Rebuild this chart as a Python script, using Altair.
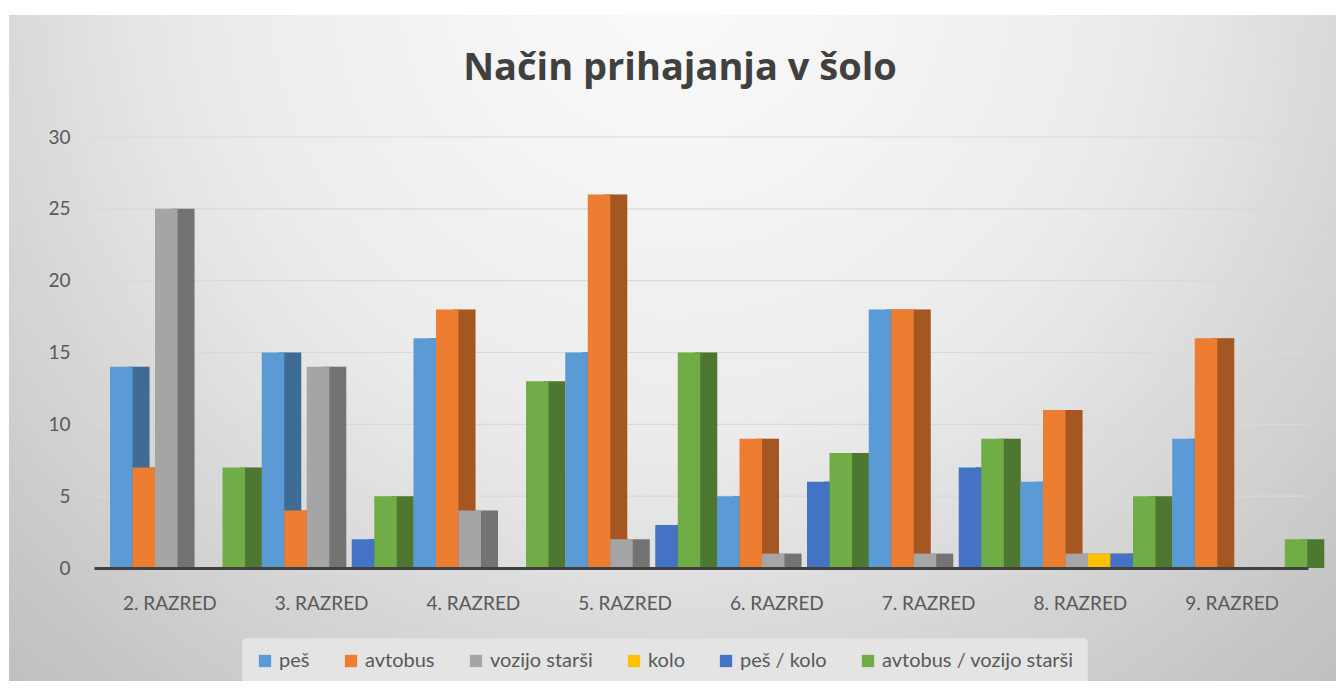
import altair as alt
import pandas as pd

grades = ["2. RAZRED", "3. RAZRED", "4. RAZRED", "5. RAZRED",
          "6. RAZRED", "7. RAZRED", "8. RAZRED", "9. RAZRED"]
series = ["peš", "avtobus", "vozijo starši", "kolo", "peš / kolo", "avtobus / vozijo starši"]
colors = ["#5B9BD5", "#ED7D31", "#A5A5A5", "#FFC000", "#4472C4", "#70AD47"]

pes = [14, 15, 16, 15, 5, 18, 6, 9]
avtobus = [7, 4, 18, 26, 9, 18, 11, 16]
vozijo_starsi = [25, 14, 4, 2, 1, 1, 1, 0]
kolo = [0, 0, 0, 0, 0, 0, 1, 0]
pes_kolo = [0, 2, 0, 3, 6, 7, 1, 0]
avtobus_vozijo = [7, 5, 13, 15, 8, 9, 5, 2]
y_ticks = [0, 5, 10, 15, 20, 25, 30]
title_text = "Način prihajanja v šolo"

rows = []
for s, vals in zip(series, [pes, avtobus, vozijo_starsi, kolo, pes_kolo, avtobus_vozijo]):
    for g, v in zip(grades, vals):
        rows.append({"razred": g, "nacin": s, "vrednost": v})
df = pd.DataFrame(rows)

W, H = 1214, 431
FONT = "Lato"
LABEL = "#595959"

x_axis = alt.Axis(title=None, labelAngle=0, ticks=False, labelPadding=26,
                  labelFontSize=19, labelColor=LABEL, domainColor="#404040",
                  domainWidth=3, grid=False, zindex=1)
y_axis = alt.Axis(title=None, values=y_ticks, grid=False, domain=False, ticks=False,
                  labelPadding=24, labelFontSize=19, labelColor=LABEL, zindex=1)
x_enc = alt.X("razred:N", sort=grades,
              scale=alt.Scale(paddingInner=0, paddingOuter=0), axis=x_axis)
y_scale = alt.Scale(domain=[0, 30], nice=False)
y_enc = alt.Y("vrednost:Q", scale=y_scale, axis=y_axis)
color_scale = alt.Scale(domain=series, range=colors)
legend = alt.Legend(title=None, orient="none", legendX=148, legendY=501,
                    direction="horizontal", symbolType="square",
                    symbolSize=150, symbolStrokeWidth=0,
                    labelFontSize=20, labelColor=LABEL, labelFont=FONT, labelLimit=400,
                    columnPadding=31, padding=13, labelOffset=4,
                    fillColor="#e4e4e4", strokeColor="#dedede",
                    cornerRadius=3, zindex=1)
color_enc = alt.Color("nacin:N", scale=color_scale, legend=legend, sort=series)

gradient = alt.Gradient(
    gradient="radial",
    stops=[alt.GradientStop(offset=0, color="#fbfbfb"),
           alt.GradientStop(offset=0.45, color="#ebebeb"),
           alt.GradientStop(offset=1, color="#b9b9b9")],
    x1=0.5, y1=0.22, x2=0.5, y2=0.22, r1=0, r2=0.78)

bg = alt.Chart(pd.DataFrame({"a": [0]})).mark_rect(fill=gradient).encode(
    x=alt.value(-85), x2=alt.value(1242), y=alt.value(-122), y2=alt.value(544))

title = alt.Chart(pd.DataFrame({"t": [title_text]})).mark_text(
    font="Open Sans", fontSize=38, fontWeight="bold", color="#404040",
    align="center", baseline="alphabetic").encode(
    text="t:N", x=alt.value(W / 2 - 21), y=alt.value(-57))

grid = alt.Chart(pd.DataFrame({"v": y_ticks[1:]})).mark_rule(
    color="#d9d9d9", strokeWidth=1.2).encode(
    y=alt.Y("v:Q", scale=y_scale, axis=y_axis))

back_off = alt.XOffset("nacin:N", sort=series,
                       scale=alt.Scale(range=[33, 168], paddingInner=0, paddingOuter=0))
back = alt.Chart(df).mark_bar().encode(
    x=x_enc, y=y_enc, xOffset=back_off, color=color_enc)
shade = alt.Chart(df).mark_bar(color="black", opacity=0.3).encode(
    x=x_enc, y=y_enc, xOffset=back_off)
back_layer = alt.layer(back, shade)

front_off = alt.XOffset("nacin:N", sort=series,
                        scale=alt.Scale(range=[16, 151], paddingInner=0, paddingOuter=0))
front = alt.Chart(df).mark_bar().encode(
    x=x_enc, y=y_enc, xOffset=front_off, color=color_enc,
    tooltip=["razred", "nacin", "vrednost"])

chart = alt.layer(bg, grid, back_layer, front, title).resolve_scale(
    xOffset="independent"
).properties(
    width=W, height=H,
    padding={"left": 86, "top": 129, "right": 28, "bottom": 113},
    autosize=alt.AutoSizeParams(type="none"),
).configure(font=FONT, background="white").configure_view(stroke=None)

chart.save("out.html", embed_options={"renderer": "svg", "actions": False})
